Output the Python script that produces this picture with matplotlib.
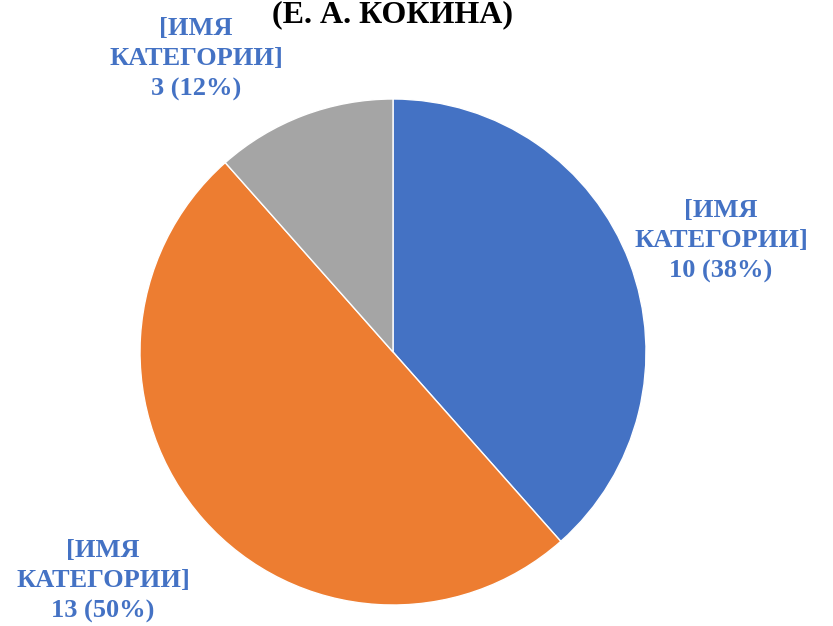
import matplotlib
matplotlib.use("Agg")
import matplotlib.pyplot as plt

categories = ["[ИМЯ\nКАТЕГОРИИ]", "[ИМЯ\nКАТЕГОРИИ]", "[ИМЯ\nКАТЕГОРИИ]"]
values = [10, 13, 3]
colors = ["#4472C4", "#ED7D31", "#A5A5A5"]
title = "(Е. А. КОКИНА)"

plt.rcParams['font.family'] = ['Liberation Serif', 'DejaVu Serif']

fig = plt.figure(figsize=(8.33, 6.26), dpi=100)
ax = fig.add_axes([393/833 - 253/833, 274/626 - 253/626, 506/833, 506/626])

ax.pie(values, colors=colors, startangle=90, counterclock=False,
       wedgeprops=dict(edgecolor="white", linewidth=1))
ax.set_xlim(-1, 1)
ax.set_ylim(-1, 1)
ax.set_aspect("equal")

total = sum(values)
label_pos = [(721, 241), (103, 581), (196, 59)]
for cat, v, (px, py) in zip(categories, values, label_pos):
    pct = round(100 * v / total)
    fig.text(px / 833, 1 - py / 626, f"{cat}\n{v} ({pct}%)", ha="center", va="center",
             color="#4472C4", fontsize=19, fontweight="bold", linespacing=1.38)

fig.text(392 / 833, 1 - 22 / 626, title, ha="center", va="baseline",
         fontsize=23, fontweight="bold", color="black")

fig.savefig("out.png", dpi=100, facecolor="white")
